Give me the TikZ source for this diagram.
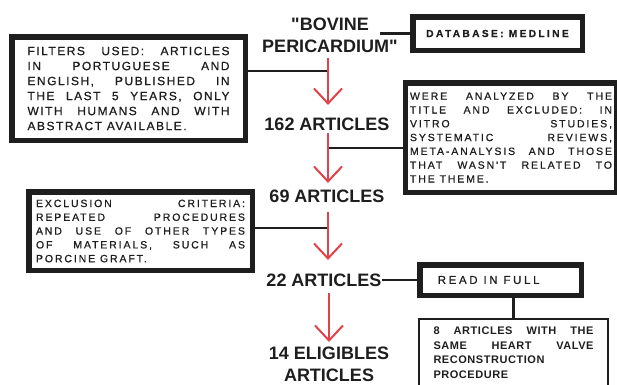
\documentclass[tikz,border=0pt]{standalone}
\usepackage{fontspec}
\setmainfont{Liberation Sans}[Ligatures=TeXOff]
\newfontfamily\boxfont{Liberation Sans}[LetterSpace=12.5, FakeBold=0.8]
\newfontfamily\widefont{Liberation Sans}[LetterSpace=18, FakeBold=0.8]
\newfontfamily\tagfont{Liberation Sans}[LetterSpace=23, FakeBold=0.6]
\newfontfamily\notefont{Liberation Sans}[LetterSpace=5]
\usepackage{tikz}
\usetikzlibrary{arrows.meta, positioning}
\definecolor{flowred}{RGB}{226,66,74}
\definecolor{ink}{RGB}{30,30,30}

\begin{document}
\begin{tikzpicture}[x=1pt, y=-1pt,
  count/.style={font=\fontsize{18}{22}\selectfont\bfseries, text=ink, align=center, inner sep=0pt},
  frame/.style={draw=ink, line width=5.5pt, inner sep=0pt, text=ink, align=justify},
  flow/.style={draw=flowred, line width=2pt, -{Straight Barb[length=15pt, width=28pt, line width=2pt]}},
  link/.style={draw=ink, line width=2.5pt}]

  \useasboundingbox (0,0) rectangle (617,384);
  \clip (0,0) rectangle (617,384);

  % search term and counts
  \node[count] (title) at (330,35.5) {"BOVINE\\PERICARDIUM"};
  \node[count] (a162) at (327,124) {162 ARTICLES};
  \node[count] (a69) at (327,196) {69 ARTICLES};
  \node[count] (a22) at (324,280) {22 ARTICLES};
  \node[count] (a14) at (329,364.5) {14 ELIGIBLES\\ARTICLES};

  % spine and joints
  \coordinate (spine) at (328,0);
  \coordinate (j1) at (328,71);
  \coordinate (j2) at (328,148);
  \coordinate (j3) at (328,228);
  \coordinate (tdb) at (380,33.5);

  % side boxes
  \node[frame, font=\tagfont\fontsize{10.2}{12}\selectfont\bfseries, align=center,
        minimum width=169.5pt, minimum height=33.5pt] (db) at (497.5,33.5) {DATABASE: MEDLINE};
  \node[frame, font=\boxfont\fontsize{12}{15}\selectfont, text width=202pt,
        minimum width=233.5pt, minimum height=103.5pt] (filt) at (128.5,88.5)
    {FILTERS USED: ARTICLES\linebreak IN PORTUGUESE AND\linebreak ENGLISH, PUBLISHED IN\linebreak
     THE LAST 5 YEARS, ONLY\linebreak WITH HUMANS AND WITH\linebreak ABSTRACT AVAILABLE.};
  \node[frame, font=\widefont\fontsize{10.5}{13.8}\selectfont, text width=202pt,
        minimum width=211pt, minimum height=109.5pt] (anal) at (511,137.5)
    {WERE ANALYZED BY THE\linebreak TITLE AND EXCLUDED: IN\linebreak VITRO STUDIES,\linebreak
     SYSTEMATIC REVIEWS,\linebreak META-ANALYSIS AND THOSE\linebreak THAT WASN'T RELATED TO\linebreak THE THEME.};
  \node[frame, font=\widefont\fontsize{10.5}{13.8}\selectfont, text width=209pt,
        minimum width=223.5pt, minimum height=78.5pt] (excl) at (140.5,231)
    {EXCLUSION CRITERIA:\linebreak REPEATED PROCEDURES\linebreak AND USE OF OTHER TYPES\linebreak
     OF MATERIALS, SUCH AS\linebreak PORCINE GRAFT.};
  \node[frame, font=\tagfont\fontsize{11.5}{14}\selectfont, text width=125.5pt,
        inner xsep=18pt, minimum width=161.5pt, minimum height=30.5pt] (read) at (500.5,280) {READ IN FULL};
  \node[draw=ink, line width=1.8pt, inner xsep=0pt, inner ysep=8pt, text=ink, align=justify,
        font=\notefont\fontsize{11}{14.5}\selectfont\bfseries, text width=160pt, text depth=62pt,
        minimum width=189pt, anchor=north] (eight) at (513.5,318)
    {8 ARTICLES WITH THE\linebreak SAME HEART VALVE\linebreak RECONSTRUCTION\linebreak PROCEDURE};

  % black connectors
  \draw[link] (tdb) -- (db.west);
  \draw[link] (filt.east |- j1) -- (j1);
  \draw[link] (j2) -- (anal.west |- j2);
  \draw[link] (excl.east |- j3) -- (j3);
  \draw[link] (a22.east) -- (read.west |- a22.east);
  \draw[link] (read.south -| eight.north) -- (eight.north);

  % red flow arrows
  \draw[flow, shorten <=5pt, shorten >=12.5pt] (title.south -| spine) -- (a162.north -| spine);
  \draw[flow, shorten <=2.5pt, shorten >=6.5pt] (a162.south -| spine) -- (a69.north -| spine);
  \draw[flow, shorten <=9.5pt, shorten >=13.5pt] (a69.south -| spine) -- (a22.north -| spine);
  \draw[flow, shorten <=6.5pt, shorten >=5pt] (a22.south -| a14.north) -- (a14.north);

\end{tikzpicture}
\end{document}
